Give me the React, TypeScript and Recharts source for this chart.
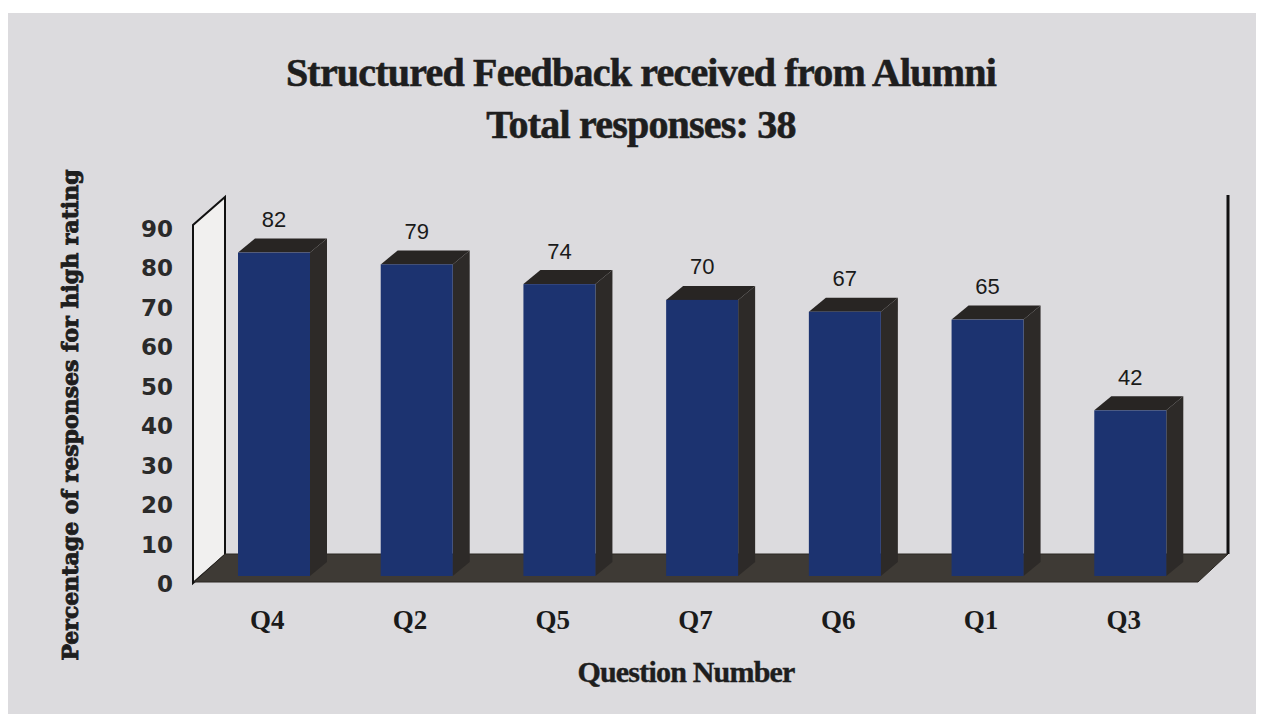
import { BarChart, Bar, XAxis, YAxis, ReferenceArea, LabelList } from 'recharts';

const questions = ['Q4', 'Q2', 'Q5', 'Q7', 'Q6', 'Q1', 'Q3'];
const highRatingPct = [82, 79, 74, 70, 67, 65, 42];
const yTicks = [0, 10, 20, 30, 40, 50, 60, 70, 80, 90];

const data = questions.map((q, i) => ({ q, pct: highRatingPct[i] }));

const DEPTH_X = 17;
const DEPTH_Y = 14;

function Bar3D(props: any) {
  const { x, y, width, height } = props;
  if (!height) return null;
  const r = x + width;
  const b = y + height;
  return (
    <g>
      <polygon
        points={`${r},${y} ${r + DEPTH_X},${y - DEPTH_Y} ${r + DEPTH_X},${b - DEPTH_Y} ${r},${b}`}
        fill="#2d2a28"
      />
      <polygon
        points={`${x},${y} ${x + DEPTH_X},${y - DEPTH_Y} ${r + DEPTH_X},${y - DEPTH_Y} ${r},${y}`}
        fill="#282523"
      />
      <rect x={x} y={y} width={width} height={height} fill="#1c3370" />
    </g>
  );
}

// floor and side walls, laid out around the plot rectangle
function Walls(props: any) {
  const { x, y, width, height } = props;
  const x0 = x;
  const x1 = x + width;
  const yt = y;
  const yb = y + height;
  return (
    <g>
      <polygon
        points={`${x0 - 10},${yb + 7} ${x0 - 10},${yt + 4} ${x0 + 22},${yt - 24} ${x0 + 22},${yb - 21}`}
        fill="#f1f0ef"
        stroke="#111"
        strokeWidth={2}
      />
      <line x1={x1 + 26} y1={yt - 26} x2={x1 + 26} y2={yb - 22} stroke="#111" strokeWidth={3} />
      <polygon
        points={`${x0 - 9},${yb + 6} ${x1 - 4},${yb + 6} ${x1 + 26},${yb - 22} ${x0 + 22},${yb - 22}`}
        fill="#3e3a35"
        stroke="#2a2622"
        strokeWidth={1}
      />
    </g>
  );
}

function XTick(props: any) {
  const { x, y, payload } = props;
  return (
    <text
      x={x - 7}
      y={y + 36}
      textAnchor="middle"
      dominantBaseline="central"
      fontFamily="Liberation Serif"
      fontWeight="bold"
      fontSize={27}
      fill="#1a1a1a"
    >
      {payload.value}
    </text>
  );
}

function YTick(props: any) {
  const { x, y, payload } = props;
  return (
    <text
      x={x - 22}
      y={y + 8}
      textAnchor="end"
      dominantBaseline="central"
      fontFamily="DejaVu Sans"
      fontWeight="bold"
      fontSize={23}
      fill="#2a2a2a"
    >
      {payload.value}
    </text>
  );
}

function ValueLabel(props: any) {
  const { x, y, width, value } = props;
  return (
    <text
      x={x + width / 2}
      y={y - 33}
      textAnchor="middle"
      dominantBaseline="central"
      fontFamily="Liberation Sans"
      fontSize={22}
      fill="#1a1a1a"
    >
      {value}
    </text>
  );
}

export default function App() {
  return (
    <div
      style={{
        position: 'relative',
        top: 5,
        width: 1256,
        height: 706,
        background: '#dcdbde',
        overflow: 'hidden',
      }}
    >
      <style>{'body { margin: 8px; background: #fff; }'}</style>
      <div
        style={{
          position: 'absolute',
          left: 233,
          width: 800,
          top: 34,
          textAlign: 'center',
          fontFamily: 'Liberation Serif',
          fontWeight: 'bold',
          fontSize: 40,
          lineHeight: '52px',
          color: '#1e1e1e',
          letterSpacing: -0.8,
          WebkitTextStroke: '0.6px #1e1e1e',
        }}
      >
        <div>Structured Feedback received from Alumni</div>
        <div>Total responses: 38</div>
      </div>
      <div
        style={{
          position: 'absolute',
          left: 62,
          top: 402,
          transform: 'translate(-50%, -50%) rotate(-90deg)',
          whiteSpace: 'nowrap',
          fontFamily: 'DejaVu Serif',
          fontWeight: 'bold',
          fontSize: 22,
          color: '#1e1e1e',
          WebkitTextStroke: '0.9px #1e1e1e',
        }}
      >
        Percentage of responses for high rating
      </div>
      <div
        style={{
          position: 'absolute',
          left: 478,
          width: 400,
          top: 642,
          textAlign: 'center',
          fontFamily: 'Liberation Serif',
          fontWeight: 'bold',
          fontSize: 30,
          color: '#1e1e1e',
          letterSpacing: -0.8,
          WebkitTextStroke: '0.4px #1e1e1e',
        }}
      >
        Question Number
      </div>
      <div style={{ position: 'absolute', left: 0, top: 0 }}>
        <BarChart width={1256} height={706} data={data} margin={{ top: 208, right: 62, left: 0, bottom: 0 }}>
          <XAxis dataKey="q" height={143} axisLine={false} tickLine={false} tick={<XTick />} interval={0} />
          <YAxis
            width={195}
            domain={[0, 90]}
            ticks={yTicks}
            axisLine={false}
            tickLine={false}
            tick={<YTick />}
            interval={0}
          />
          <ReferenceArea y1={0} y2={90} shape={<Walls />} zIndex={-10} />
          <Bar dataKey="pct" barSize={72} shape={<Bar3D />} isAnimationActive={false}>
            <LabelList dataKey="pct" content={<ValueLabel />} />
          </Bar>
        </BarChart>
      </div>
    </div>
  );
}
